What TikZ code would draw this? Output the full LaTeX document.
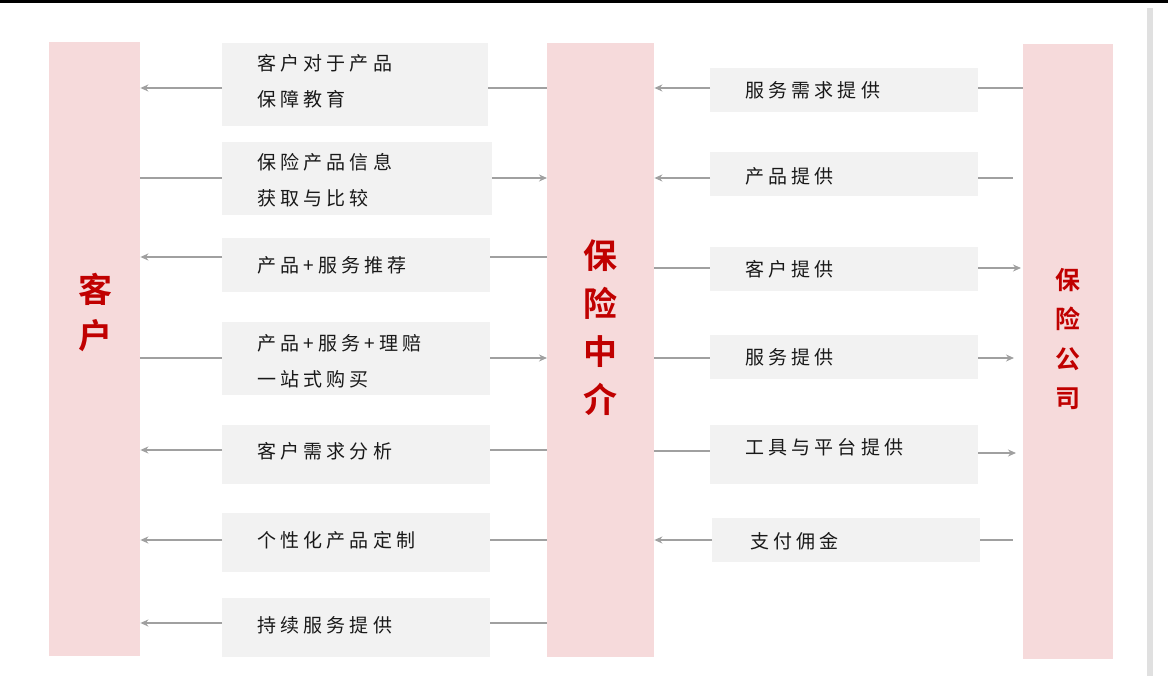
\documentclass[tikz,border=0pt]{standalone}
\usepackage{fontspec}
\setmainfont{Noto Sans CJK SC}
\newfontfamily\cjkb{Noto Sans CJK SC Bold}
\usetikzlibrary{arrows.meta}
\definecolor{pinkbg}{HTML}{F6DADB}
\definecolor{graybox}{HTML}{F2F2F2}
\definecolor{lineg}{HTML}{A0A0A0}
\definecolor{redtxt}{HTML}{C00000}
\tikzset{
  party/.style={fill=pinkbg, draw=none, inner sep=0pt, anchor=north west},
  gbox/.style={fill=graybox, draw=none, inner sep=0pt, anchor=north west},
  txt/.style={anchor=west, inner sep=0pt, align=left, font=\fontsize{19pt}{36pt}\selectfont\addfontfeatures{LetterSpace=22}, text=black!90},
  conn/.style={draw=lineg, line width=2.6pt},
  arr/.style={conn, -{Stealth[length=8pt,width=7pt]}},
  bigred/.style={inner sep=0pt, align=center, text=redtxt}
}
\begin{document}
\begin{tikzpicture}[x=1pt,y=-1pt]
\useasboundingbox (0,0) rectangle (1168,676);
\fill[black] (0,0) rectangle (1168,3);
\fill[black!12] (1147,8) rectangle (1153,676);
% parties
\node[party, minimum width=91pt, minimum height=614pt] (cust) at (49,42) {};
\node[party, minimum width=107pt, minimum height=614pt] (mid) at (547,43) {};
\node[party, minimum width=90pt, minimum height=615pt] (ins) at (1023,44) {};
\node[bigred, font=\fontsize{34pt}{46pt}\selectfont\cjkb] (custt) at (95,312) {客\\户};
\node[bigred, font=\fontsize{34pt}{48pt}\selectfont\cjkb] (midt) at (600,328) {保\\险\\中\\介};
\node[bigred, font=\fontsize{25pt}{39.5pt}\selectfont\cjkb] (inst) at (1068,339) {保\\险\\公\\司};
% left boxes
\node[gbox, minimum width=266pt, minimum height=83pt] (l1) at (222,43) {};
\node[gbox, minimum width=270pt, minimum height=73pt] (l2) at (222,142) {};
\node[gbox, minimum width=268pt, minimum height=54pt] (l3) at (222,238) {};
\node[gbox, minimum width=268pt, minimum height=73pt] (l4) at (222,322) {};
\node[gbox, minimum width=268pt, minimum height=59pt] (l5) at (222,425) {};
\node[gbox, minimum width=268pt, minimum height=59pt] (l6) at (222,513) {};
\node[gbox, minimum width=268pt, minimum height=59pt] (l7) at (222,598) {};
\node[txt] (lt1) at (257,81) {客户对于产品\\保障教育};
\node[txt] (lt2) at (257,180) {保险产品信息\\获取与比较};
\node[txt] (lt3) at (257,265) {产品+服务推荐};
\node[txt] (lt4) at (257,361) {产品+服务+理赔\\一站式购买};
\node[txt] (lt5) at (257,451) {客户需求分析};
\node[txt] (lt6) at (257,540) {个性化产品定制};
\node[txt] (lt7) at (257,625) {持续服务提供};
% right boxes
\node[gbox, minimum width=268pt, minimum height=44pt] (r1) at (710,68) {};
\node[gbox, minimum width=268pt, minimum height=44pt] (r2) at (710,152) {};
\node[gbox, minimum width=268pt, minimum height=44pt] (r3) at (710,247) {};
\node[gbox, minimum width=268pt, minimum height=44pt] (r4) at (710,335) {};
\node[gbox, minimum width=268pt, minimum height=59pt] (r5) at (710,425) {};
\node[gbox, minimum width=268pt, minimum height=44pt] (r6) at (712,518) {};
\node[txt] (rt1) at (745,90) {服务需求提供};
\node[txt] (rt2) at (745,176) {产品提供};
\node[txt] (rt3) at (745,269) {客户提供};
\node[txt] (rt4) at (745,357) {服务提供};
\node[txt] (rt5) at (745,447) {工具与平台提供};
\node[txt] (rt6) at (750,541) {支付佣金};
% left side connectors
\draw[arr] (l1.west |- 0,88) -- (cust.east |- 0,88);
\draw[conn] (l1.east |- 0,88) -- (mid.west |- 0,88);
\draw[conn] (cust.east |- 0,178) -- (l2.west |- 0,178);
\draw[arr] (l2.east |- 0,178) -- (mid.west |- 0,178);
\draw[arr] (l3.west |- 0,257) -- (cust.east |- 0,257);
\draw[conn] (l3.east |- 0,257) -- (mid.west |- 0,257);
\draw[conn] (cust.east |- 0,358) -- (l4.west |- 0,358);
\draw[arr] (l4.east |- 0,358) -- (mid.west |- 0,358);
\draw[arr] (l5.west |- 0,450) -- (cust.east |- 0,450);
\draw[conn] (l5.east |- 0,450) -- (mid.west |- 0,450);
\draw[arr] (l6.west |- 0,540) -- (cust.east |- 0,540);
\draw[conn] (l6.east |- 0,540) -- (mid.west |- 0,540);
\draw[arr] (l7.west |- 0,623) -- (cust.east |- 0,623);
\draw[conn] (l7.east |- 0,623) -- (mid.west |- 0,623);
% right side connectors
\draw[arr] (r1.west |- 0,88) -- (mid.east |- 0,88);
\draw[conn] (r1.east |- 0,88) -- (ins.west |- 0,88);
\draw[arr] (r2.west |- 0,178) -- (mid.east |- 0,178);
\draw[conn] (r2.east |- 0,178) -- ([xshift=-10pt]ins.west |- 0,178);
\draw[conn] (mid.east |- 0,268) -- (r3.west |- 0,268);
\draw[arr] (r3.east |- 0,268) -- ([xshift=-2pt]ins.west |- 0,268);
\draw[conn] (mid.east |- 0,358) -- (r4.west |- 0,358);
\draw[arr] (r4.east |- 0,358) -- ([xshift=-9pt]ins.west |- 0,358);
\draw[conn] (mid.east |- 0,451) -- (r5.west |- 0,451);
\draw[arr] (r5.east |- 0,453) -- ([xshift=-7pt]ins.west |- 0,453);
\draw[arr] (r6.west |- 0,540) -- (mid.east |- 0,540);
\draw[conn] (r6.east |- 0,540) -- ([xshift=-10pt]ins.west |- 0,540);
\end{tikzpicture}
\end{document}
